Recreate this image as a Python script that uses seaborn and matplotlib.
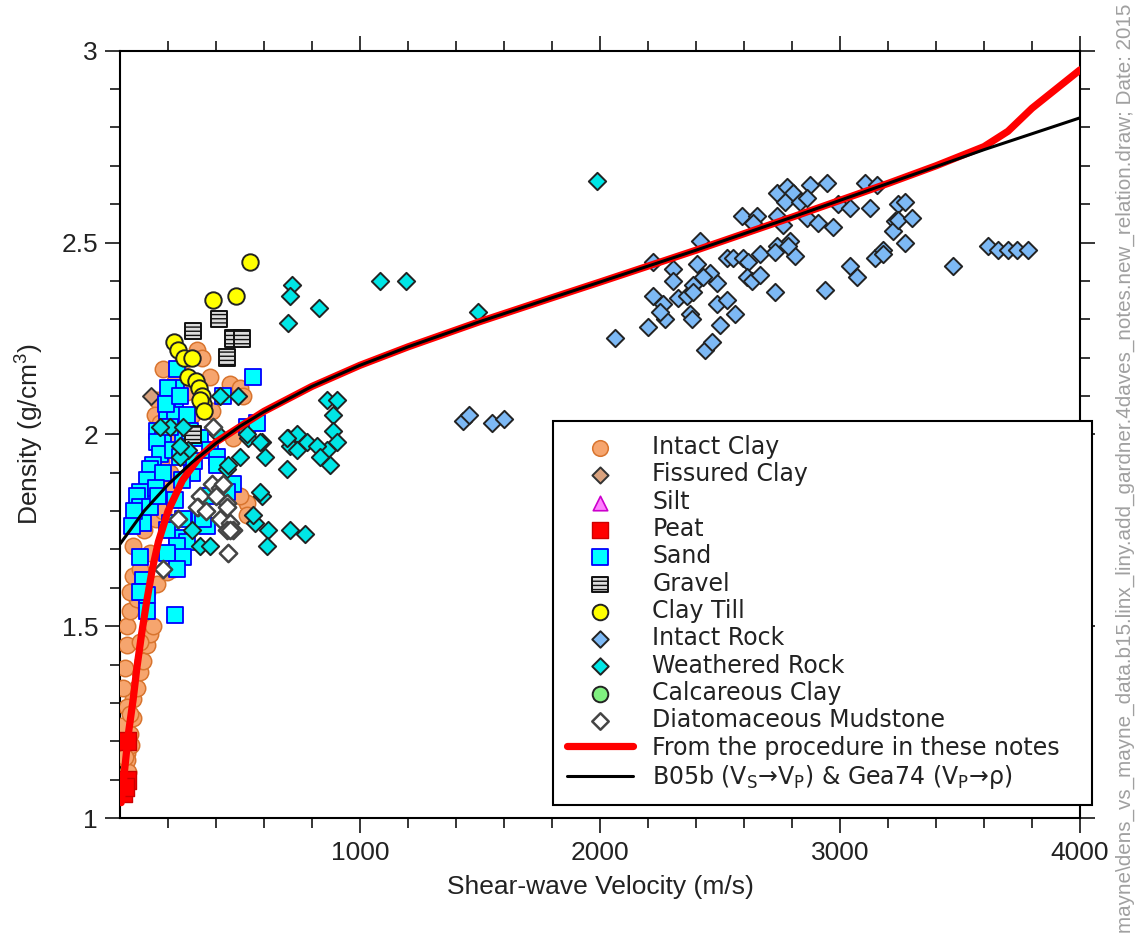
import matplotlib
matplotlib.use("Agg")
import matplotlib.pyplot as plt
import seaborn as sns
from matplotlib.ticker import FixedLocator, MultipleLocator

# ---------------- data ----------------
clay_v = [30, 42, 54, 54, 71, 83, 96, 112, 125, 29, 12, 21, 29, 29, 42, 71, 112, 154, 196, 221,
          42, 54, 83, 54, 125, 138, 83, 4, 29, 42, 15, 35, 45, 21,
          100, 150, 180, 130, 200, 210, 170, 240, 260,
          179, 154, 146, 167, 375, 458, 500, 513, 471, 529, 529, 500, 263, 321, 342, 208, 280,
          230, 385, 300]
clay_rho = [1.17, 1.22, 1.26, 1.31, 1.34, 1.38, 1.41, 1.45, 1.48, 1.29, 1.34, 1.39, 1.45, 1.50,
            1.54, 1.57, 1.59, 1.61, 1.64, 1.65,
            1.59, 1.63, 1.65, 1.71, 1.69, 1.50, 1.46, 1.24, 1.15, 1.27, 1.10, 1.12, 1.19, 1.16,
            1.75, 1.78, 1.80, 1.85, 1.86, 1.90, 1.93, 1.95, 1.97,
            2.17, 2.09, 2.05, 2.03, 2.15, 2.13, 2.12, 2.10, 1.99, 1.82, 1.79, 1.84, 2.19, 2.22,
            2.20, 1.99, 2.11, 2.14, 2.06, 2.05]

fissured_v = [129]
fissured_rho = [2.10]

silt_v = []
silt_rho = []

peat_v = [28, 29, 12, 20]
peat_rho = [1.20, 1.10, 1.065, 1.08]

sand_v = [237, 233, 229, 196, 229, 154, 179, 154, 167, 138, 125, 112, 83, 71, 83, 96, 221, 250,
          263, 279, 292, 333, 375, 404, 429, 529, 571, 404, 471, 446, 375, 333, 363, 263, 208,
          238, 279, 125, 196, 238, 263, 83, 196, 238, 96, 92, 112, 112, 229, 83, 346, 554,
          200, 210, 180, 150, 300, 260, 230, 160, 190, 250, 310, 60, 50]
sand_rho = [2.17, 2.12, 2.09, 2.06, 2.05, 2.01, 1.99, 1.98, 1.95, 1.92, 1.91, 1.88, 1.85, 1.84,
            1.81, 1.77, 1.96, 1.94, 1.99, 2.05, 2.01, 1.99, 1.96, 1.94, 2.10, 2.02, 2.03, 1.92,
            1.87, 1.85, 1.84, 1.78, 1.76, 1.78, 1.77, 1.73, 1.72, 1.81, 1.75, 1.71, 1.68,
            1.68, 1.69, 1.65, 1.62, 1.59, 1.58, 1.54, 1.53, 1.59, 1.78, 2.15,
            2.12, 2.02, 1.90, 1.86, 1.90, 1.88, 1.83, 1.84, 2.08, 2.10, 1.93, 1.80, 1.76]

gravel_v = [304, 412, 471, 508, 446, 304]
gravel_rho = [2.27, 2.30, 2.25, 2.25, 2.20, 2.00]

till_v = [540, 387, 483, 225, 240, 265, 300, 285, 315, 330, 340, 345, 335, 350]
till_rho = [2.45, 2.35, 2.36, 2.24, 2.22, 2.20, 2.20, 2.15, 2.14, 2.12, 2.10, 2.08, 2.09, 2.06]

irock_v = [1430, 1455, 1550, 1600,
           2063, 2200, 2221, 2221, 2263, 2271, 2250, 2304, 2304, 2325, 2375, 2383, 2363, 2388,
           2404, 2417, 2388, 2438, 2467, 2500, 2488, 2529, 2563, 2488, 2458, 2429, 2529, 2554,
           2596, 2617, 2613, 2633, 2667, 2667, 2592, 2654, 2638, 2738, 2763, 2738, 2729, 2792,
           2813, 2783, 2738, 2779, 2804, 2771, 2875, 2946, 2833, 2863, 2863, 2908, 2971, 2729,
           2938, 2992, 3042, 3125, 3104, 3154, 3042, 3071, 3146, 3179, 3229, 3221, 3242, 3271,
           3242, 3300, 3271, 3179, 3471, 3617, 3658, 3700, 3738, 3783]
irock_rho = [2.035, 2.05, 2.03, 2.04,
             2.25, 2.28, 2.45, 2.36, 2.34, 2.30, 2.32, 2.43, 2.40, 2.355, 2.315, 2.30, 2.36, 2.39,
             2.445, 2.505, 2.37, 2.22, 2.24, 2.285, 2.34, 2.35, 2.315, 2.395, 2.42, 2.41, 2.46,
             2.46, 2.46, 2.45, 2.41, 2.40, 2.415, 2.47, 2.57, 2.57, 2.55, 2.57, 2.545, 2.49,
             2.475, 2.505, 2.465, 2.49, 2.63, 2.645, 2.63, 2.605, 2.65, 2.655, 2.605, 2.615,
             2.565, 2.55, 2.54, 2.37, 2.375, 2.60, 2.59, 2.59, 2.655, 2.65, 2.44, 2.41, 2.46,
             2.48, 2.555, 2.53, 2.60, 2.605, 2.56, 2.565, 2.50, 2.47, 2.44, 2.49, 2.48, 2.48,
             2.48, 2.48]

wrock_v = [1988, 1083, 1192, 1492, 717, 708, 700, 830,
           863, 904, 888, 888, 904, 863, 875, 700, 738, 708, 738, 696, 779, 821, 833,
           592, 604, 533, 500, 446, 592, 563, 617, 708, 771, 417, 492,
           208, 263, 283, 250, 529, 583, 250, 167, 300, 333, 375, 555, 613, 408, 450, 583, 696]
wrock_rho = [2.66, 2.40, 2.40, 2.32, 2.39, 2.36, 2.29, 2.33,
             2.09, 2.09, 2.05, 2.01, 1.98, 1.96, 1.92, 1.99, 2.00, 1.97, 1.96, 1.91, 1.98, 1.97,
             1.94, 1.98, 1.94, 1.99, 1.94, 1.91, 1.84, 1.77, 1.75, 1.75, 1.74, 2.10, 2.10,
             2.02, 2.02, 1.96, 1.94, 2.00, 1.98, 1.97, 2.02, 1.75, 1.71, 1.71, 1.79, 1.71, 2.00,
             1.92, 1.85, 1.99]

calc_v = []
calc_rho = []

diatom_v = [388, 383, 333, 417, 446, 325, 417, 458, 446, 471, 242, 321, 446, 458, 450, 179,
            400, 430, 360]
diatom_rho = [2.02, 1.87, 1.84, 1.86, 1.82, 1.81, 1.78, 1.77, 1.75, 1.75, 1.78, 1.81, 1.81,
              1.75, 1.69, 1.65, 1.84, 1.87, 1.80]

red_v = [5, 20, 35, 55, 70, 90, 110, 135, 160, 200, 260, 330, 400, 500, 600, 800, 1000, 1200,
         1500, 1800, 2000, 2400, 2800, 3200, 3400, 3600, 3700, 3800, 3900, 4000]
red_rho = [1.04, 1.13, 1.22, 1.31, 1.39, 1.48, 1.56, 1.65, 1.72, 1.80, 1.88, 1.94, 1.98, 2.02,
           2.06, 2.125, 2.18, 2.228, 2.294, 2.356, 2.397, 2.48, 2.566, 2.654, 2.70, 2.75, 2.79,
           2.85, 2.90, 2.95]

black_v = [0, 100, 200, 300, 400, 500, 600, 800, 1000, 1200, 1500, 1800, 2000, 2400, 2800,
           3200, 3400, 3600, 4000]
black_rho = [1.714, 1.80, 1.869, 1.927, 1.977, 2.021, 2.059, 2.125, 2.18, 2.228, 2.294, 2.356,
             2.397, 2.48, 2.566, 2.654, 2.698, 2.742, 2.825]

labels = ["Intact Clay", "Fissured Clay", "Silt", "Peat", "Sand", "Gravel", "Clay Till",
          "Intact Rock", "Weathered Rock", "Calcareous Clay", "Diatomaceous Mudstone",
          "From the procedure in these notes",
          "B05b (V$_\\mathregular{S}$\u2192V$_\\mathregular{P}$) & Gea74 (V$_\\mathregular{P}$\u2192\u03c1)"]

x_major = [1000, 2000, 3000, 4000]
y_major = [1, 1.5, 2, 2.5, 3]
y_major_labels = ["1", "1.5", "2", "2.5", "3"]

# ---------------- styling ----------------
sns.set_theme(style="ticks")
plt.rcParams['font.family'] = ['Liberation Sans', 'DejaVu Sans']
plt.rcParams['hatch.linewidth'] = 1.0
plt.rcParams['hatch.color'] = 'black'

W, H = 1141, 951
fig = plt.figure(figsize=(W / 100, H / 100), dpi=100)
fig.patch.set_facecolor('white')
ax = fig.add_axes([120 / W, 1 - 818 / H, 960 / W, (818 - 50.7) / H])
ax.set_facecolor('white')

series = [
    (clay_v, clay_rho, dict(marker='o', s=140, color='#F6A56E', edgecolor='#D8742E', linewidth=1.1)),
    (fissured_v, fissured_rho, dict(marker='D', s=75, color='#D9A27E', edgecolor='#333333', linewidth=1.4)),
    (silt_v, silt_rho, dict(marker='^', s=120, color='#FF80FF', edgecolor='#CC00CC', linewidth=1.2)),
    (peat_v, peat_rho, dict(marker='s', s=150, color='#FF0000', edgecolor='#CC0000', linewidth=1.0)),
    (sand_v, sand_rho, dict(marker='s', s=140, color='#00FFFF', edgecolor='#0000FF', linewidth=1.3)),
    (gravel_v, gravel_rho, dict(marker='s', s=140, color='#DDDDDD', edgecolor='#111111', linewidth=1.4, hatch='----')),
    (till_v, till_rho, dict(marker='o', s=140, color='#FFFF00', edgecolor='#222222', linewidth=1.4)),
    (irock_v, irock_rho, dict(marker='D', s=78, color='#7DB9F5', edgecolor='#222222', linewidth=1.4)),
    (wrock_v, wrock_rho, dict(marker='D', s=78, color='#00E6E6', edgecolor='#222222', linewidth=1.4)),
    (calc_v, calc_rho, dict(marker='o', s=140, color='#80F080', edgecolor='#222222', linewidth=1.4)),
    (diatom_v, diatom_rho, dict(marker='D', s=78, color='#FFFFFF', edgecolor='#444444', linewidth=1.8)),
]

handles = []
for i, (xv, yv, kw) in enumerate(series):
    if len(xv):
        n_before = len(ax.collections)
        sns.scatterplot(x=xv, y=yv, ax=ax, legend=False, zorder=3 + i * 0.01, **kw)
        handles.append(ax.collections[n_before])
    else:
        kw2 = dict(kw)
        c = kw2.pop('color')
        handles.append(ax.scatter(xv, yv, c=c, **kw2))

sns.lineplot(x=red_v, y=red_rho, ax=ax, color='#FF0000', linewidth=5.2, sort=False,
             estimator=None, zorder=6, legend=False)
red_line = ax.lines[-1]
sns.lineplot(x=black_v, y=black_rho, ax=ax, color='black', linewidth=2.2, sort=False,
             estimator=None, zorder=7, legend=False)
black_line = ax.lines[-1]
handles += [red_line, black_line]

# ---------------- axes ----------------
ax.set_xlim(0, 4000)
ax.set_ylim(1, 3)
ax.xaxis.set_major_locator(FixedLocator(x_major))
ax.xaxis.set_minor_locator(FixedLocator([v for v in range(200, 4000, 200) if v % 1000]))
ax.set_xticklabels([str(v) for v in x_major])
ax.yaxis.set_major_locator(FixedLocator(y_major))
ax.set_yticklabels(y_major_labels)
ax.yaxis.set_minor_locator(MultipleLocator(0.1))

for sp in ax.spines.values():
    sp.set_visible(True)
    sp.set_linewidth(1.5)
    sp.set_color('black')

ax.tick_params(which='both', direction='out', top=True, right=True, bottom=True, left=True,
               labeltop=False, labelright=False, color='black', width=1.1)
ax.tick_params(which='major', length=10.8, labelsize=19, labelcolor='#222222')
ax.tick_params(which='minor', length=7.2)
ax.tick_params(axis='x', which='major', pad=6)
ax.tick_params(axis='y', which='major', pad=5)

ax.set_xlabel("Shear-wave Velocity (m/s)", fontsize=19, color='#222222', labelpad=7)
ax.set_ylabel("Density (g/cm$^\\mathregular{3}$)", fontsize=19, color='#222222', labelpad=12)
ax.grid(False)

leg = ax.legend(handles, labels, loc='upper left',
                bbox_to_anchor=(553 / W, 1 - 803 / H, (1092 - 553) / W, (803 - 421) / H),
                bbox_transform=fig.transFigure, mode='expand', borderaxespad=0,
                prop={'family': 'DejaVu Sans', 'size': 17}, frameon=True, fancybox=False,
                framealpha=1, edgecolor='black', borderpad=0.6, labelspacing=0.14,
                handlelength=2.8, handletextpad=0.8, scatterpoints=1, markerscale=0.95)
leg.get_frame().set_linewidth(1.5)
leg.set_zorder(10)
for t in leg.get_texts():
    t.set_color('#222222')

fig.text(1125 / W, 1 - 4 / H,
         "mayne\\dens_vs_mayne_data.b15.linx_liny.add_gardner.4daves_notes.new_relation.draw; Date: 2015",
         rotation=90, ha='center', va='top', color='#A0A0A0', fontsize=14.9,
         family='Liberation Sans')

fig.savefig("out.png", dpi=100, facecolor='white')
